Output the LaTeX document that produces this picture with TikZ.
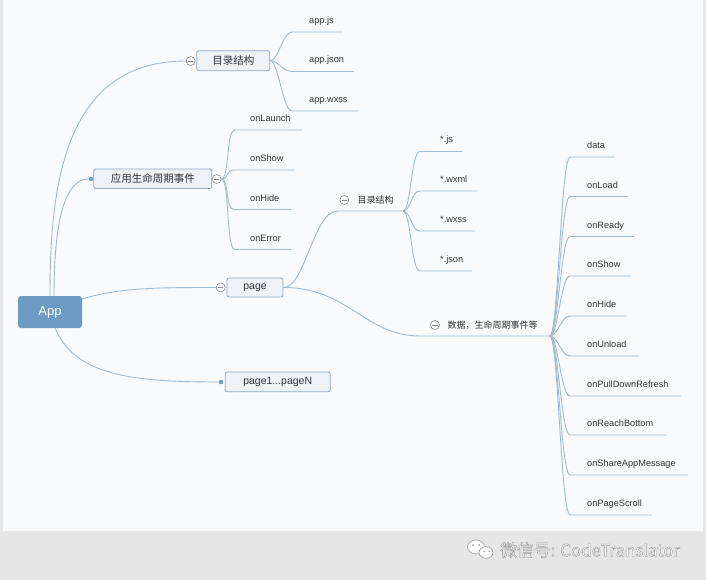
\documentclass[tikz,border=0pt]{standalone}
\usepackage{fontspec}
\setmainfont{Liberation Sans}
\newfontfamily\cjk{Noto Sans CJK SC}
\usetikzlibrary{calc}
\pgfdeclarelayer{bg}
\pgfsetlayers{bg,main}
\definecolor{linec}{HTML}{A0BACF}
\definecolor{boxfill}{HTML}{EDF2F7}
\definecolor{boxdraw}{HTML}{90AAC2}
\definecolor{appfill}{HTML}{6C9CC3}
\definecolor{txt}{HTML}{333333}
\definecolor{panel}{HTML}{F9FAFB}
\definecolor{outer}{HTML}{E6E6E6}
\definecolor{minusc}{HTML}{8A8A8A}
\definecolor{wmline}{HTML}{A0A0A0}
% #1 name, #2 parent, #3 line start x, #4 line y, #5 line end x, #6 text x, #7 text
\newcommand\leafbranch[7]{%
  \coordinate (#1s) at (#3,#4);
  \coordinate (#1e) at (#5,#4);
  \node[leaftext] (#1) at (#6,{#4-8.5}) {#7};
  \begin{pgfonlayer}{bg}
  \draw[conn] (#2) .. controls +(8,0) and +(-9,0) .. (#1s) -- (#1e);
  \end{pgfonlayer}
}
\newcommand\outlinedtext[1]{\special{pdf:literal direct 2 Tr 0.45 w 0.62 G}#1\special{pdf:literal direct 0 Tr}}
\begin{document}
\begin{tikzpicture}[x=1pt,y=-1pt,
  conn/.style={draw=linec, line width=0.9pt},
  topic/.style={draw=boxdraw, fill=boxfill, rounded corners=2pt, inner sep=0pt, line width=0.8pt,
    font=\fontsize{10.5}{12}\selectfont, text=txt},
  subtopic/.style={anchor=west, inner sep=0pt, font=\cjk\fontsize{9}{11}\selectfont, text=txt},
  leaftext/.style={anchor=base west, inner sep=0pt, font=\fontsize{9.2}{11}\selectfont, text=txt},
  minus/.style={circle, draw=minusc, fill=white, minimum size=9pt, inner sep=0pt, line width=0.6pt,
    path picture={\draw[minusc, line width=0.6pt] ([xshift=-2.6pt]path picture bounding box.center) -- ([xshift=2.6pt]path picture bounding box.center);}},
  dotm/.style={circle, fill=appfill, minimum size=4.5pt, inner sep=0pt},
  wmtext/.style={anchor=west, inner sep=0pt, font=\cjk\fontsize{16.8}{19}\selectfont}]
\useasboundingbox (0,0) rectangle (706,580);
\begin{pgfonlayer}{bg}
\fill[outer] (0,0) rectangle (706,580);
\fill[panel] (3,0) rectangle (703,531);
\end{pgfonlayer}

% main topics
\node[fill=appfill, rounded corners=3pt, minimum width=64pt, minimum height=32pt, inner sep=0pt,
  text=white, font=\fontsize{13}{15}\selectfont] (app) at (50,312) {App};
\node[topic, minimum width=73pt, minimum height=20pt] (dir) at (233.3,60.7) {\cjk 目录结构};
\node[minus] (dirm) at (190.7,61) {};
\node[topic, minimum width=118pt, minimum height=19.5pt] (life) at (152.8,178.7) {\cjk 应用生命周期事件};
\node[dotm] (lifed) at (91,179) {};
\node[minus] (lifem) at (216.7,179) {};
\node[topic, minimum width=56pt, minimum height=19pt] (page) at (255,287.5) {page};
\node[minus] (pagem) at (220.7,287.5) {};
\node[topic, minimum width=105pt, minimum height=19.7pt] (pn) at (277.7,381.8) {page1...pageN};
\node[dotm] (pnd) at (221,382) {};

% sub topics of page
\node[minus] (sdirm) at (344.3,200) {};
\node[subtopic] (sdir) at (357.5,200) {目录结构};
\node[minus] (datam) at (435,325) {};
\node[subtopic] (data) at (447.5,325) {数据，生命周期事件等};
\coordinate (sdirs) at (338,211);
\coordinate (sdirfan) at (403,211);
\coordinate (datas) at (420,336);
\coordinate (datafan) at (550,336);

% connectors from App
\begin{pgfonlayer}{bg}
\draw[conn] (50,296) .. controls (50,190) and (62,61) .. (dirm.west);
\draw[conn] (54,296) .. controls (54,220) and (65,179) .. (lifed.west);
\draw[conn] (81.5,299) .. controls (120,288) and (150,287.5) .. (pagem.west);
\draw[conn] (55,328) .. controls (75,375) and (130,382) .. (pnd.west);
\draw[conn] (page.east) .. controls +(22,0) and +(-25,0) .. (sdirs) -- (sdirfan);
\draw[conn] (page.east) .. controls +(65,0) and +(-55,0) .. (datas) -- (datafan);
\end{pgfonlayer}

% leaves of 目录结构
\leafbranch{ajs}{dir.east}{292}{32}{343}{309}{app.js}
\leafbranch{ajson}{dir.east}{292}{71.5}{354}{309}{app.json}
\leafbranch{awxss}{dir.east}{292}{111}{358}{309}{app.wxss}
% leaves of 应用生命周期事件
\leafbranch{alaunch}{lifem.east}{235}{130}{302}{250}{onLaunch}
\leafbranch{ashow}{lifem.east}{234}{170}{295}{250}{onShow}
\leafbranch{ahide}{lifem.east}{234}{209.5}{291}{250}{onHide}
\leafbranch{aerror}{lifem.east}{235}{249.5}{291}{250}{onError}
% leaves of page/目录结构
\leafbranch{pjs}{sdirfan}{420}{151.5}{462}{440}{*.js}
\leafbranch{pwxml}{sdirfan}{420}{191}{477}{440}{*.wxml}
\leafbranch{pwxss}{sdirfan}{420}{231}{475}{440}{*.wxss}
\leafbranch{pjson}{sdirfan}{420}{271}{472}{440}{*.json}
% leaves of 数据，生命周期事件等
\leafbranch{ddata}{datafan}{570}{157}{615}{587}{data}
\leafbranch{dload}{datafan}{570}{196.5}{628}{587}{onLoad}
\leafbranch{dready}{datafan}{570}{236.5}{634}{587}{onReady}
\leafbranch{dshow}{datafan}{570}{276}{631}{587}{onShow}
\leafbranch{dhide}{datafan}{570}{316}{627}{587}{onHide}
\leafbranch{dunload}{datafan}{570}{356}{639}{587}{onUnload}
\leafbranch{dpull}{datafan}{570}{396}{681}{587}{onPullDownRefresh}
\leafbranch{dreach}{datafan}{570}{435}{667}{587}{onReachBottom}
\leafbranch{dshare}{datafan}{570}{475}{688}{587}{onShareAppMessage}
\leafbranch{dscroll}{datafan}{570}{515}{652}{587}{onPageScroll}

% watermark
\draw[wmline, fill=white, line width=0.7pt] (476,547) ellipse (8.5pt and 7pt);
\draw[wmline, fill=white, line width=0.7pt] (486,552.5) ellipse (7pt and 5.8pt);
\fill[wmline] (473,545) circle (1pt) (479,545) circle (1pt) (484,551.5) circle (0.8pt) (489,551.5) circle (0.8pt);
\node[wmtext, text=white] (wm) at (500,550) {\outlinedtext{微信号: CodeTranslator}};
\end{tikzpicture}
\end{document}
